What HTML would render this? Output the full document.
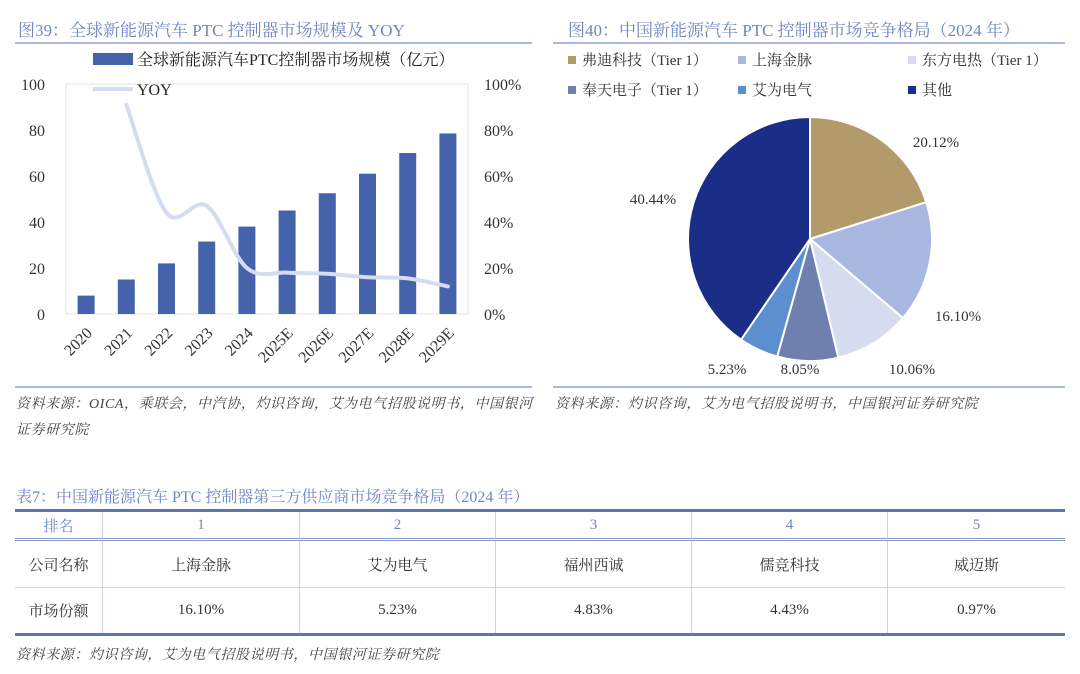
<!DOCTYPE html>
<html><head><meta charset="utf-8">
<style>
body{margin:0;width:1080px;height:674px;background:#fff;font-family:"Liberation Serif","Noto Serif CJK SC",serif;position:relative;overflow:hidden}
.abs{position:absolute}
.title{color:#6f86c0;font-size:17px;white-space:nowrap}
.src{color:#444;font-style:italic;font-size:14px;line-height:26px;letter-spacing:0.6px}
table{border-collapse:collapse;font-size:15px;color:#333}
td{text-align:center;border-left:1px solid #ccd3e6;border-right:1px solid #ccd3e6}
</style></head><body>
<div class="abs title" style="left:18px;top:16px">图39：全球新能源汽车 PTC 控制器市场规模及 YOY</div>
<div class="abs" style="left:15px;top:42px;width:517px;border-top:2px solid #a9b8dc"></div>
<div class="abs title" style="left:568px;top:16px">图40：中国新能源汽车 PTC 控制器市场竞争格局（2024 年）</div>
<div class="abs" style="left:553px;top:42px;width:512px;border-top:2px solid #a9b8dc"></div>

<svg class="abs" style="left:0;top:0" width="1080" height="400" id="svg"></svg>

<div class="abs" style="left:15px;top:386px;width:517px;border-top:2px solid #a9b8dc"></div>
<div class="abs src" style="left:16px;top:392px;width:520px">资料来源：OICA，乘联会，中汽协，灼识咨询，艾为电气招股说明书，中国银河证券研究院</div>
<div class="abs" style="left:553px;top:386px;width:512px;border-top:2px solid #a9b8dc"></div>
<div class="abs src" style="left:555px;top:392px">资料来源：灼识咨询，艾为电气招股说明书，中国银河证券研究院</div>

<div class="abs title" style="left:16px;top:484px;font-size:16px">表7：中国新能源汽车 PTC 控制器第三方供应商市场竞争格局（2024 年）</div>
<table class="abs" style="left:15px;top:509px;width:1050px;border-top:3px solid #5f74b0;border-bottom:3px solid #5f74b0">
<tr style="height:29px;color:#6f86c0;border-bottom:3px double #8a9cc9"><td style="width:85px;border-left:none">排名</td><td style="width:194px">1</td><td style="width:193px">2</td><td style="width:193px">3</td><td style="width:193px">4</td><td style="border-right:none">5</td></tr>
<tr style="height:48px;border-bottom:1px solid #ccd3e6"><td style="border-left:none">公司名称</td><td>上海金脉</td><td>艾为电气</td><td>福州西诚</td><td>儒竞科技</td><td style="border-right:none">威迈斯</td></tr>
<tr style="height:47px"><td style="border-left:none">市场份额</td><td>16.10%</td><td>5.23%</td><td>4.83%</td><td>4.43%</td><td style="border-right:none">0.97%</td></tr>
</table>
<div class="abs src" style="left:16px;top:643px">资料来源：灼识咨询，艾为电气招股说明书，中国银河证券研究院</div>

<script>
const years=["2020","2021","2022","2023","2024","2025E","2026E","2027E","2028E","2029E"];
const sizes=[8,15,22,31.5,38,45,52.5,61,70,78.5];
const yoy=[null,91,44,47,20,18,17.5,16,15.5,12];
const yTicks=[0,20,40,60,80,100];
const pieLabels=["弗迪科技（Tier 1）","上海金脉","东方电热（Tier 1）","奉天电子（Tier 1）","艾为电气","其他"];
const pieValues=[20.12,16.10,10.06,8.05,5.23,40.44];
const pieColors=["#b39a6b","#a9b8e0","#d5dcef","#6f7fae","#5b8fd0","#1a2e87"];

const NS="http://www.w3.org/2000/svg";
const svg=document.getElementById('svg');
function mk(t,a,txt){const e=document.createElementNS(NS,t);for(const k in a)e.setAttribute(k,a[k]);if(txt!=null)e.textContent=txt;svg.appendChild(e);return e;}
const x0=66,x1=468,yB=314,yT=84;
const y=v=>yB-(v/100)*(yB-yT);
const band=(x1-x0)/years.length;
const xc=i=>x0+band*(i+0.5);
let e=mk('rect',{x:x0,y:yT,width:x1-x0,height:yB-yT,fill:'none',stroke:'#e4e4e4'});


yTicks.forEach(t=>{
 let a=mk('text',{x:45,y:y(t)+6,'text-anchor':'end','font-size':16,fill:'#333'},t);
 
 
 let b=mk('text',{x:484,y:y(t)+6,'font-size':16,fill:'#333'},t+'%');
 
 
});
years.forEach((yr,i)=>{
 let r=mk('rect',{x:xc(i)-8.5,y:y(sizes[i]),width:17,height:yB-y(sizes[i]),fill:'#4563ab'});
 
 
 let t=mk('text',{x:0,y:0,'font-size':16,fill:'#333','text-anchor':'end',transform:`translate(${xc(i)+7},${yB+20}) rotate(-45)`},yr);
 
 
});
const pts=[];yoy.forEach((v,i)=>{if(v!=null)pts.push([xc(i),y(v)]);});
let d='M'+pts[0][0]+','+pts[0][1];
for(let i=0;i<pts.length-1;i++){const p0=pts[Math.max(i-1,0)],p1=pts[i],p2=pts[i+1],p3=pts[Math.min(i+2,pts.length-1)];
 d+=` C${p1[0]+(p2[0]-p0[0])/6},${p1[1]+(p2[1]-p0[1])/6} ${p2[0]-(p3[0]-p1[0])/6},${p2[1]-(p3[1]-p1[1])/6} ${p2[0]},${p2[1]}`;}
e=mk('path',{d:d,fill:'none',stroke:'#d3dcf0','stroke-width':4,'stroke-linecap':'round'});


mk('rect',{x:93,y:53,width:40,height:12,fill:'#4563ab'});
e=mk('text',{x:137,y:65,'font-size':16,fill:'#222'},'全球新能源汽车PTC控制器市场规模（亿元）');


mk('line',{x1:93,y1:89,x2:133,y2:89,stroke:'#d3dcf0','stroke-width':4});
e=mk('text',{x:137,y:95,'font-size':16,fill:'#222'},'YOY');


const cx=810,cy=239,R=122;let ang=-Math.PI/2;const tot=pieValues.reduce((a,b)=>a+b,0);
const lblPos=[[936,147],[958,321],[912,374],[800,374],[727,374],[653,204]];
pieValues.forEach((v,i)=>{
 const a2=ang+v/tot*2*Math.PI;const lg=(a2-ang)>Math.PI?1:0;
 let p=mk('path',{d:`M${cx},${cy} L${cx+R*Math.cos(ang)},${cy+R*Math.sin(ang)} A${R},${R} 0 ${lg} 1 ${cx+R*Math.cos(a2)},${cy+R*Math.sin(a2)} Z`,fill:pieColors[i],stroke:'#fff','stroke-width':2});
 
 
 let t=mk('text',{x:lblPos[i][0],y:lblPos[i][1],'font-size':15,fill:'#333','text-anchor':'middle'},v.toFixed(2)+'%');
 
 
 ang=a2;
});
const lx=[568,738,908],ly=[65,95];
pieLabels.forEach((l,i)=>{
 const X=lx[i%3],Y=ly[Math.floor(i/3)];
 mk('rect',{x:X,y:Y-9,width:8,height:8,fill:pieColors[i]});
 let t=mk('text',{x:X+14,y:Y,'font-size':15,fill:'#333'},l);
 
 
});
</script>
</body></html>
